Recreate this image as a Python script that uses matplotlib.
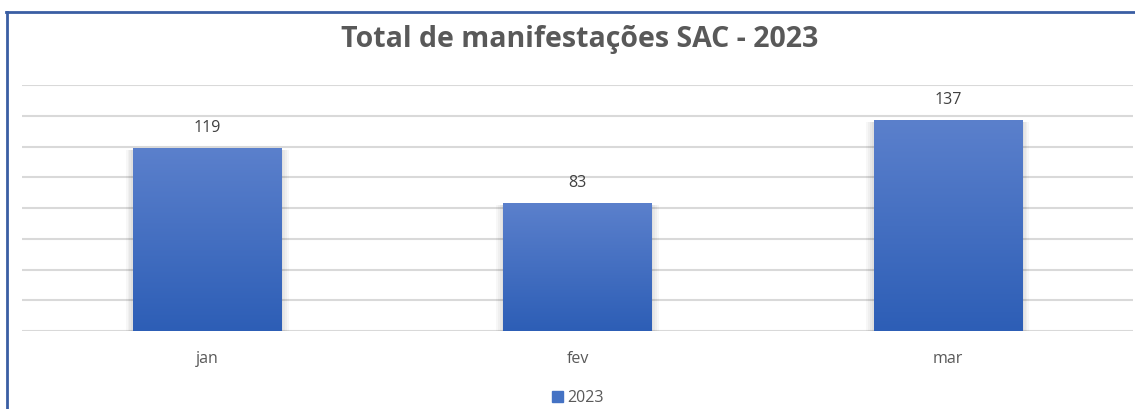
import numpy as np
import matplotlib
matplotlib.use("Agg")
import matplotlib.pyplot as plt
from matplotlib.lines import Line2D
from matplotlib.patches import Patch

meses = ["jan", "fev", "mar"]
valores = [119, 83, 137]
serie = "2023"
titulo = "Total de manifestações SAC - 2023"

cor_topo = "#5b80cc"
cor_base = "#2d5eb6"
cinza_texto = "#595959"

plt.rcParams["font.family"] = ["Open Sans", "DejaVu Sans"]

fig = plt.figure(figsize=(11.35, 4.09), dpi=100)
ax = fig.add_axes([22 / 1135, 78 / 409, 1111 / 1135, 246 / 409])

x = np.arange(len(meses))
largura = 0.4

# sombra suave dos lados das barras
for k in [0.04, 0.03, 0.02, 0.01]:
    ax.bar(x, [v - 1 for v in valores], largura + k, color="black", alpha=0.03,
           zorder=2, linewidth=0)

bars = ax.bar(x, valores, largura, color="none", zorder=3, linewidth=0)

# degrade vertical dentro de cada barra
grad = np.linspace(0, 1, 256).reshape(-1, 1)
cmap = matplotlib.colors.LinearSegmentedColormap.from_list("g", [cor_base, cor_topo])
for b in bars:
    x0, y0 = b.get_x(), b.get_y()
    w, h = b.get_width(), b.get_height()
    im = ax.imshow(grad, extent=[x0, x0 + w, y0, y0 + h], origin="lower",
                   cmap=cmap, aspect="auto", zorder=3)
    im.set_clip_path(b)
    ax.text(x0 + w / 2, h + 8, f"{int(h)}", ha="center", va="bottom",
            fontsize=11.5, color="#404040", zorder=4)

ax.set_xlim(-0.5, len(meses) - 0.5)
ax.set_ylim(0, 160)
ax.set_yticks(np.arange(0, 161, 20))
ax.yaxis.grid(True, color="#d9d9d9", linewidth=1.5, zorder=0)
ax.set_axisbelow(True)
ax.tick_params(axis="y", left=False, labelleft=False)
ax.tick_params(axis="x", bottom=False, pad=11)
ax.set_xticks(x)
ax.set_xticklabels(meses, fontsize=11.5, color=cinza_texto)
for s in ax.spines.values():
    s.set_visible(False)

fig.text(580 / 1135, 1 - 40 / 409, titulo, ha="center", va="center",
         fontsize=20.5, fontweight="bold", color=cinza_texto)

fig.legend(handles=[Patch(color="#4472c4", label=serie)], loc="center",
           bbox_to_anchor=(578 / 1135, 1 - 398 / 409), frameon=False,
           fontsize=11.5, handlelength=0.7, handleheight=0.7, handletextpad=0.3,
           labelcolor=cinza_texto)

# moldura azul (topo e esquerda)
borda = "#3a5ea3"
fig.add_artist(Line2D([6 / 1135, 1], [1 - 12 / 409, 1 - 12 / 409],
                      color=borda, linewidth=2, transform=fig.transFigure))
fig.add_artist(Line2D([6.5 / 1135, 6.5 / 1135], [0, 1 - 12 / 409],
                      color=borda, linewidth=2, transform=fig.transFigure))

fig.savefig("out.png", dpi=100)
